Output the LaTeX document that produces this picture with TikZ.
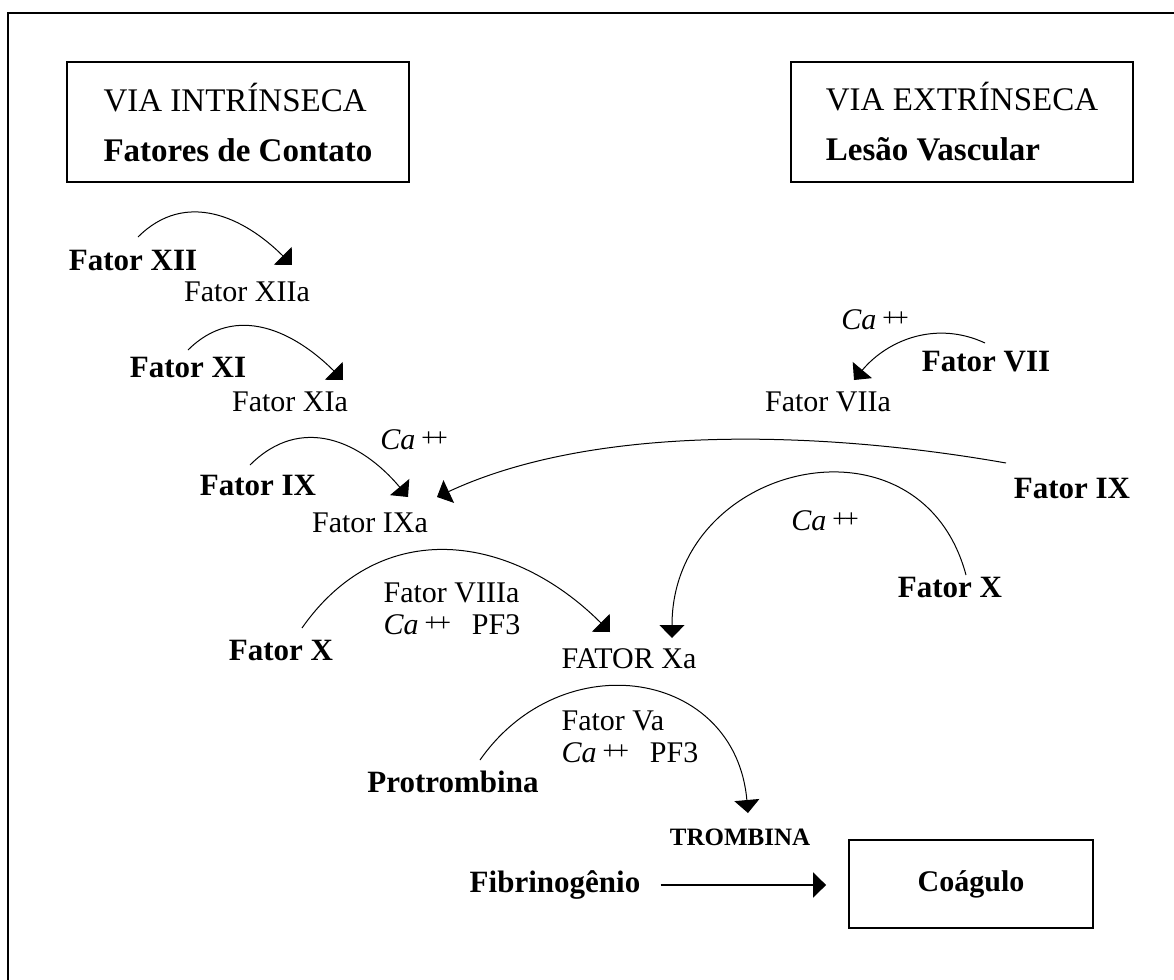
\documentclass[tikz,border=0pt]{standalone}
\usepackage{fontspec}
\setmainfont{Liberation Serif}
\usetikzlibrary{arrows.meta}

\newcommand{\caion}{\textit{Ca}\hspace{3pt}\raisebox{0.1em}{\fontsize{13}{13}\selectfont +\kern-1.5pt+}}

\begin{document}
\begin{tikzpicture}[x=0.5pt, y=0.5pt,
    fac/.style={font=\fontsize{15.5}{18}\selectfont\bfseries, inner sep=0pt},
    act/.style={font=\fontsize{15}{18}\selectfont, inner sep=0pt},
    cof/.style={font=\fontsize{15}{16}\selectfont, inner sep=0pt, align=left},
    via/.style={draw, line width=0.9pt, align=left, minimum width=171pt, minimum height=60pt, font=\fontsize{16.5}{25}\selectfont},
    conv/.style={-{Triangle[length=6.5pt, width=12.5pt]}, line width=0.5pt}
  ]
  \useasboundingbox (0,0) rectangle (1174,-980);
  % moldura
  \draw[line width=1pt] (8,-980) -- (8,-13) -- (1174,-13);

  \node[via] (intr) at (238,-122) {VIA INTRÍNSECA\\\textbf{Fatores de Contato}};
  \node[via] (extr) at (962,-122) {VIA EXTRÍNSECA\\\textbf{Lesão Vascular}};

  % via intrinseca
  \node[fac] (xii) at (133,-260) {Fator XII};
  \node[act] (xiia) at (247,-292) {Fator XIIa};
  \node[fac] (xi) at (188,-367) {Fator XI};
  \node[act] (xia) at (290,-402) {Fator XIa};
  \node[act] (ca1) at (414,-440) {\caion};
  \node[fac] (ixl) at (258,-485) {Fator IX};
  \node[act] (ixa) at (370,-523) {Fator IXa};

  % via extrinseca
  \node[act] (ca2) at (875,-320) {\caion};
  \node[fac] (vii) at (986,-362) {Fator VII};
  \node[act] (viia) at (828,-402) {Fator VIIa};
  \node[fac] (ixr) at (1072,-488) {Fator IX};
  \node[act] (ca3) at (825,-521) {\caion};
  \node[fac] (xr) at (950,-587) {Fator X};

  % via comum
  \node[fac] (xl) at (281,-650) {Fator X};
  \node[cof] (cof1) at (452,-609) {Fator VIIIa\\\caion\hspace{0.7em}PF3};
  \node[act] (xa) at (629,-659) {FATOR Xa};
  \node[cof] (cof2) at (630,-737) {Fator Va\\\caion\hspace{0.7em}PF3};
  \node[fac] (prot) at (453,-782) {Protrombina};
  \node[fac, font=\fontsize{12.5}{14}\selectfont\bfseries] (trom) at (740,-837) {TROMBINA};
  \node[fac] (fib) at (555,-885) {Fibrinogênio};
  \node[draw, line width=0.9pt, minimum width=122pt, minimum height=44pt,
        font=\fontsize{15}{18}\selectfont\bfseries] (coag) at (971,-884) {Coágulo};

  \draw[conv] ([shift={(5,23)}]xii.center) to[out=45, in=135, looseness=1.1] ([shift={(45,27)}]xiia.center);
  \draw[conv] ([shift={(0,17)}]xi.center) to[out=45, in=135, looseness=1.1] ([shift={(53,22)}]xia.center);
  \draw[conv] ([shift={(-8,20)}]ixl.center) to[out=45, in=130, looseness=1.15] ([shift={(38,26)}]ixa.center);
  \draw[conv] ([shift={(-66,25)}]ixr.center) to[out=170, in=25, looseness=0.8] ([shift={(67,26)}]ixa.center);
  \draw[conv] ([shift={(-1,19)}]vii.center) to[out=155, in=50] ([shift={(26,22)}]viia.center);
  \draw[conv] ([shift={(16,12)}]xr.center) to[out=105, in=90, looseness=1.5] ([shift={(43,21)}]xa.center);
  \draw[conv] ([shift={(21,22)}]xl.center) to[out=55, in=135, looseness=1.15] ([shift={(-19,27)}]xa.center);
  \draw[conv] ([shift={(27,22)}]prot.center) to[out=55, in=95, looseness=1.35] ([shift={(8,24)}]trom.center);
  \draw[conv, line width=0.9pt, shorten <=10pt, shorten >=11pt] (fib.east) -- (fib.east -| coag.west);
\end{tikzpicture}
\end{document}
